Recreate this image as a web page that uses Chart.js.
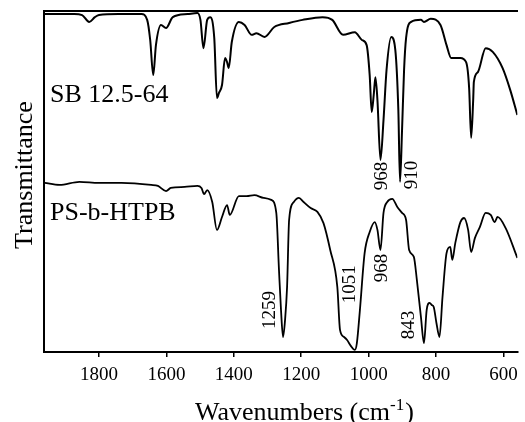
<!DOCTYPE html>
<html>
<head>
<meta charset="utf-8">
<script src="https://cdn.jsdelivr.net/npm/chart.js@4/dist/chart.umd.min.js"></script>
<style>
  html, body { margin: 0; padding: 0; background: #fff; }
  #wrap { width: 525px; height: 422px; }
</style>
</head>
<body>
<div id="wrap"><canvas id="ir-chart" width="525" height="422"></canvas></div>
<script>
/**
 * Data (arbitrary transmittance units 0-100)
 */
const sbWavenumbers = [1963, 1917, 1873, 1850, 1829, 1812, 1800, 1742, 1674, 1657, 1648, 1639, 1631, 1616, 1601, 1581, 1537, 1508, 1499, 1490, 1479, 1470, 1458, 1450, 1444, 1435, 1426, 1420, 1415, 1406, 1385, 1368, 1347, 1333, 1309, 1280, 1236, 1196, 1137, 1108, 1076, 1041, 1020, 1006, 997, 991, 985, 980, 974, 965, 956, 947, 933, 921, 912, 907, 901, 895, 889, 874, 845, 836, 816, 787, 769, 755, 728, 711, 702, 696, 690, 688, 676, 653, 632, 603, 580, 559];
const sbTransmittance = [99.1, 99.1, 99.1, 98.8, 96.8, 98.2, 98.8, 99.1, 99.1, 97.4, 91.5, 81.2, 90.0, 95.9, 95.0, 98.2, 99.1, 99.4, 97.4, 89.1, 97.4, 98.2, 92.1, 74.5, 76.0, 78.3, 86.2, 85.0, 83.3, 90.9, 96.8, 95.9, 93.0, 93.5, 92.4, 95.3, 96.5, 97.4, 98.2, 97.4, 93.0, 93.8, 91.5, 90.0, 81.2, 70.4, 75.4, 80.6, 73.9, 56.3, 68.0, 82.7, 92.4, 88.6, 71.0, 49.9, 65.1, 82.7, 92.1, 96.8, 97.4, 96.8, 97.7, 95.9, 90.0, 86.2, 86.2, 85.0, 77.4, 62.8, 73.9, 79.2, 82.1, 89.1, 88.0, 83.3, 76.8, 69.5];

const psWavenumbers = [1961, 1917, 1858, 1800, 1733, 1645, 1625, 1601, 1587, 1546, 1508, 1496, 1488, 1479, 1464, 1450, 1435, 1420, 1412, 1385, 1362, 1339, 1312, 1289, 1274, 1266, 1260, 1254, 1248, 1242, 1236, 1222, 1207, 1193, 1172, 1152, 1134, 1114, 1093, 1085, 1073, 1064, 1053, 1041, 1035, 1026, 1012, 997, 982, 974, 965, 956, 945, 930, 915, 901, 889, 880, 866, 857, 845, 836, 828, 819, 813, 807, 799, 790, 781, 769, 758, 752, 743, 728, 717, 705, 696, 685, 670, 653, 638, 626, 618, 594, 559];
const psTransmittance = [49.6, 49.0, 49.9, 49.6, 49.6, 49.0, 48.7, 47.2, 48.1, 48.4, 48.7, 48.1, 46.3, 47.5, 44.0, 35.8, 39.6, 43.1, 40.2, 45.7, 45.7, 46.0, 45.2, 44.6, 40.8, 24.0, 12.3, 4.4, 9.4, 19.1, 38.7, 44.0, 45.2, 44.0, 42.2, 41.1, 37.8, 29.9, 19.1, 6.5, 4.4, 3.5, 1.8, 0.6, 2.6, 12.3, 29.0, 35.2, 38.1, 35.8, 29.9, 40.8, 44.0, 44.9, 42.5, 40.8, 38.7, 29.9, 27.9, 21.1, 10.3, 2.6, 12.3, 14.4, 13.8, 13.2, 8.5, 4.4, 16.1, 29.0, 30.8, 27.0, 32.0, 38.1, 39.3, 35.8, 29.3, 33.4, 36.7, 40.8, 40.2, 38.1, 39.6, 36.4, 27.6];

const xTickValues = [1800, 1600, 1400, 1200, 1000, 800, 600];

const sampleNames = ['SB 12.5-64', 'PS-b-HTPB'];

// peak labels (text, wavenumber, transmittance of the label centre)
const peakTexts = ['968', '910', '1259', '1051', '968', '843'];
const peakAtWn = [959, 871, 1292, 1055, 959, 880];
const peakAtT = [51.6, 51.9, 12.3, 19.9, 24.6, 7.9];

const SERIF = '"Liberation Serif", "DejaVu Serif", serif';

/**
 * Methods
 */
const toPoints = (xs, ys) => xs.map((x, i) => ({ x: x, y: ys[i] }));

// dibuja textos: titulos, nombres de muestras, etiquetas de picos
const textPlugin = {
  id: 'irTexts',
  afterDraw(chart) {
    const ctx = chart.ctx;
    const area = chart.chartArea;
    const xs = chart.scales.x;
    const ys = chart.scales.y;
    ctx.save();
    ctx.fillStyle = '#000';

    // nombres de las muestras
    ctx.font = '26px ' + SERIF;
    ctx.textAlign = 'left';
    ctx.textBaseline = 'alphabetic';
    ctx.fillText(sampleNames[0], area.left + 6, 102);
    ctx.fillText(sampleNames[1], area.left + 6, 220);

    // etiquetas de picos, giradas
    ctx.font = '19px ' + SERIF;
    ctx.textAlign = 'center';
    ctx.textBaseline = 'middle';
    peakTexts.forEach((t, i) => {
      const px = xs.getPixelForValue(peakAtWn[i]);
      const py = ys.getPixelForValue(peakAtT[i]);
      ctx.save();
      ctx.translate(px, py);
      ctx.rotate(-Math.PI / 2);
      ctx.fillText(t, 0, 0);
      ctx.restore();
    });

    // titulo eje Y
    ctx.font = '26px ' + SERIF;
    ctx.textBaseline = 'alphabetic';
    ctx.save();
    ctx.translate(32, 175);
    ctx.rotate(-Math.PI / 2);
    ctx.textAlign = 'center';
    ctx.fillText('Transmittance', 0, 0);
    ctx.restore();

    // titulo eje X con superindice
    ctx.textAlign = 'left';
    let x0 = 195;
    const base = 420;
    ctx.font = '26px ' + SERIF;
    const part1 = 'Wavenumbers (cm';
    ctx.fillText(part1, x0, base);
    x0 += ctx.measureText(part1).width;
    ctx.font = '17px ' + SERIF;
    ctx.fillText('-1', x0, base - 10);
    x0 += ctx.measureText('-1').width + 1;
    ctx.font = '26px ' + SERIF;
    ctx.fillText(')', x0, base);
    ctx.restore();
  }
};

const createSpectra = () => {
  const ctx = document.getElementById('ir-chart').getContext('2d');

  new Chart(ctx, {
    type: 'line',
    data: {
      datasets: [
        {
          label: sampleNames[0],
          data: toPoints(sbWavenumbers, sbTransmittance),
          borderColor: '#000',
          borderWidth: 2,
          pointRadius: 0,
          cubicInterpolationMode: 'monotone',
          fill: false
        },
        {
          label: sampleNames[1],
          data: toPoints(psWavenumbers, psTransmittance),
          borderColor: '#000',
          borderWidth: 1.8,
          pointRadius: 0,
          cubicInterpolationMode: 'monotone',
          fill: false
        }
      ]
    },
    options: {
      responsive: false,
      animation: false,
      layout: { padding: { left: 0, right: 0, top: 0, bottom: 0 } },
      plugins: {
        legend: { display: false },
        tooltip: { enabled: false }
      },
      scales: {
        x: {
          type: 'linear',
          position: 'bottom',
          reverse: true,
          min: 559,
          max: 1963,
          afterBuildTicks: (scale) => {
            scale.ticks = xTickValues.map(v => ({ value: v }));
          },
          afterFit: (scale) => { scale.height = 70; },
          grid: {
            display: true,
            drawOnChartArea: false,
            drawTicks: true,
            tickLength: 5,
            color: '#000',
            lineWidth: 1.5
          },
          border: { display: true, color: '#000', width: 2 },
          ticks: {
            color: '#000',
            font: { family: SERIF, size: 19 },
            padding: 7,
            maxRotation: 0,
            autoSkip: false,
            callback: (value) => String(value)
          }
        },
        xTop: {
          type: 'linear',
          position: 'top',
          reverse: true,
          min: 559,
          max: 1963,
          afterFit: (scale) => { scale.height = 11; },
          grid: { display: false, drawTicks: false },
          border: { display: true, color: '#000', width: 2 },
          ticks: { display: false }
        },
        y: {
          type: 'linear',
          min: 0,
          max: 100,
          afterFit: (scale) => { scale.width = 44; },
          grid: { display: false, drawTicks: false },
          border: { display: true, color: '#000', width: 2 },
          ticks: { display: false }
        }
      }
    },
    plugins: [textPlugin]
  });
};

document.addEventListener('DOMContentLoaded', () => {
  createSpectra();
});
</script>
</body>
</html>
